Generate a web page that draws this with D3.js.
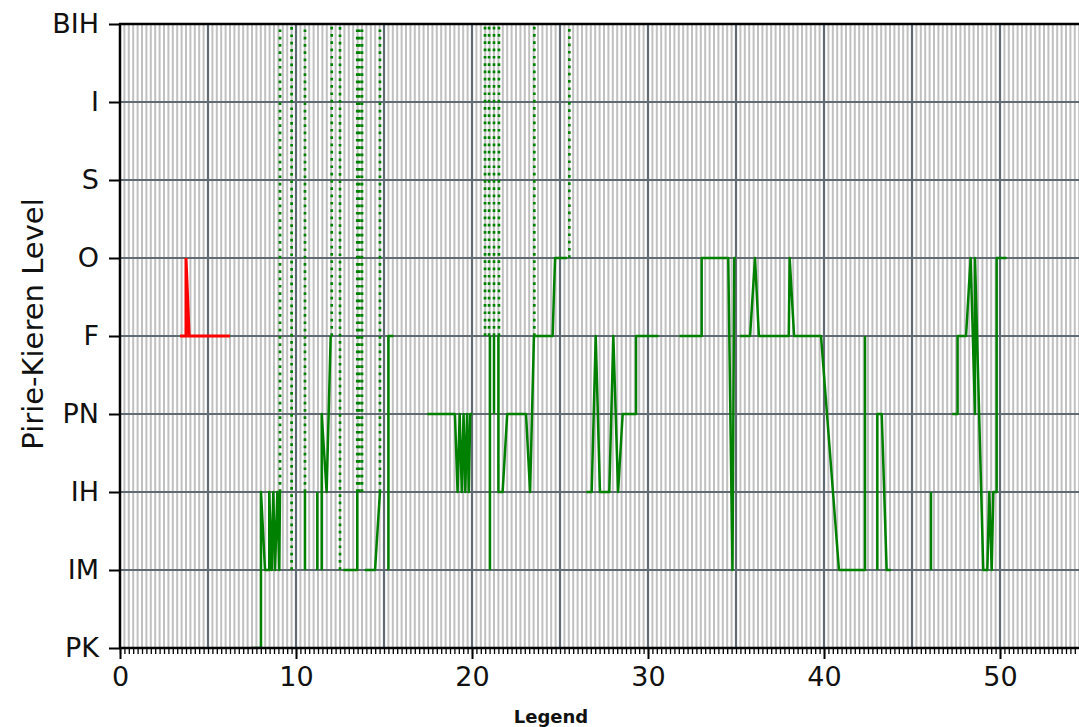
<!DOCTYPE html>
<html>
<head>
<meta charset="utf-8">
<script src="https://cdn.jsdelivr.net/npm/d3@7"></script>
<style>
  body { margin: 0; background: #fff; }
  svg text { font-family: "DejaVu Sans", sans-serif; }
</style>
</head>
<body>
<div id="chart"></div>
<script>
// Pirie-Kieren levels, bottom to top
var levels = ["PK", "IM", "IH", "PN", "F", "O", "S", "I", "BIH"];
var xTicks = [0, 10, 20, 30, 40, 50];

// red series
var redPoints = [[3.41, "F"], [3.75, "F"], [3.75, "O"], [3.93, "F"], [6.25, "F"]];

// green series, broken into pieces where the data has gaps
var greenPieces = [
  [[7.48, "PK"], [8.01, "PK"], [8.01, "IH"], [8.24, "IM"], [8.48, "IM"], [8.48, "IH"], [8.62, "IM"], [8.71, "IH"], [8.81, "IM"], [8.94, "IH"], [9.05, "IM"], [9.09, "IH"]],
  [[10.51, "IH"], [10.51, "IM"]],
  [[11.21, "IM"], [11.21, "IH"]],
  [[11.46, "IM"], [11.46, "PN"], [11.74, "IH"], [11.97, "F"]],
  [[12.69, "IM"], [13.48, "IM"], [13.48, "IH"]],
  [[13.92, "IM"], [14.49, "IM"], [14.77, "IH"]],
  [[15.25, "IM"], [15.25, "F"], [15.53, "F"]],
  [[17.46, "PN"], [19.03, "PN"], [19.18, "IH"], [19.3, "PN"], [19.42, "IH"], [19.52, "PN"], [19.62, "IH"], [19.72, "PN"], [19.82, "IH"], [19.9, "PN"], [20.02, "PN"]],
  [[21.02, "IM"], [21.02, "F"]],
  [[21.25, "F"], [21.25, "PN"]],
  [[21.5, "F"], [21.5, "IH"], [21.74, "IH"], [22.0, "PN"], [23.07, "PN"], [23.3, "IH"], [23.52, "F"], [24.58, "F"], [24.72, "O"], [25.4, "O"]],
  [[26.5, "IH"], [26.8, "IH"], [27.03, "F"], [27.27, "IH"], [27.8, "IH"], [28.03, "F"], [28.3, "IH"], [28.56, "PN"], [29.32, "PN"], [29.32, "F"], [30.59, "F"]],
  [[31.78, "F"], [33.05, "F"], [33.05, "O"], [34.56, "O"], [34.8, "IM"], [34.9, "O"], [35.0, "O"]],
  [[35.23, "F"], [35.8, "F"], [36.08, "O"], [36.3, "F"], [38.0, "F"], [38.05, "O"], [38.3, "F"], [39.83, "F"], [40.85, "IM"], [42.33, "IM"], [42.33, "F"]],
  [[43.03, "IM"], [43.03, "PN"], [43.28, "PN"], [43.56, "IM"], [43.8, "IM"]],
  [[46.08, "IH"], [46.08, "IM"]],
  [[47.29, "PN"], [47.59, "PN"], [47.59, "F"], [48.07, "F"], [48.33, "O"], [48.58, "PN"], [48.58, "O"], [49.05, "IM"], [49.28, "IM"], [49.39, "IH"], [49.53, "IM"], [49.62, "IH"], [49.81, "IH"], [49.81, "O"], [50.38, "O"]]
];

// dotted jumps up to BIH: [x, level it leaves from]
var greenJumps = [
  [9.09, "IH"], [9.75, "IM"], [10.51, "IH"], [12.03, "F"], [12.5, "IM"],
  [13.48, "IH"], [13.6, "IH"], [13.75, "IH"], [14.77, "IH"],
  [20.74, "F"], [20.97, "F"], [21.25, "F"], [21.53, "F"], [23.54, "F"], [25.53, "O"]
];

function drawChart() {
  var width = 1079, height = 727;
  var plotLeft = 120, plotTop = 24, plotBottom = 648;

  var svg = d3.select("#chart").append("svg")
      .attr("width", width)
      .attr("height", height);

  var x = d3.scaleLinear([0, 55], [plotLeft, plotLeft + 55 * 17.6]);
  var y = d3.scalePoint(levels, [plotBottom, plotTop]);

  svg.append("clipPath").attr("id", "plotclip")
    .append("rect")
      .attr("x", plotLeft).attr("y", plotTop)
      .attr("width", width - plotLeft).attr("height", plotBottom - plotTop);

  // minor vertical grid
  var minorX = d3.range(0, 55.001, 0.25);
  svg.append("g").selectAll("line")
    .data(minorX)
    .join("line")
      .attr("x1", d => x(d)).attr("x2", d => x(d))
      .attr("y1", plotTop).attr("y2", plotBottom)
      .attr("stroke", "#c0c0c0")
      .attr("stroke-width", 2);

  // major grid
  svg.append("g").selectAll("line")
    .data(d3.range(5, 55.001, 5))
    .join("line")
      .attr("x1", d => x(d)).attr("x2", d => x(d))
      .attr("y1", plotTop).attr("y2", plotBottom)
      .attr("stroke", "#5f6a72")
      .attr("stroke-width", 2.2);

  svg.append("g").selectAll("line")
    .data(levels.slice(1, -1))
    .join("line")
      .attr("x1", plotLeft).attr("x2", width)
      .attr("y1", d => y(d)).attr("y2", d => y(d))
      .attr("stroke", "#5f6a72")
      .attr("stroke-width", 2.2);

  var plot = svg.append("g").attr("clip-path", "url(#plotclip)");

  var line = d3.line()
      .x(d => x(d[0]))
      .y(d => y(d[1]));

  plot.selectAll(".jump")
    .data(greenJumps)
    .join("line")
      .attr("class", "jump")
      .attr("x1", d => x(d[0])).attr("x2", d => x(d[0]))
      .attr("y1", d => y(d[1])).attr("y2", y("BIH"))
      .attr("stroke", "green")
      .attr("stroke-width", 2.7)
      .attr("stroke-dasharray", "2.7,4.6");

  plot.selectAll(".piece")
    .data(greenPieces)
    .join("path")
      .attr("class", "piece")
      .attr("d", line)
      .attr("fill", "none")
      .attr("stroke", "green")
      .attr("stroke-width", 2.5)
      .attr("stroke-linejoin", "round");

  plot.append("path")
      .datum(redPoints)
      .attr("d", line)
      .attr("fill", "none")
      .attr("stroke", "red")
      .attr("stroke-width", 3);

  // axes
  var yAxis = svg.append("g")
      .attr("transform", "translate(" + plotLeft + ",0)")
      .call(d3.axisLeft(y).tickSize(11).tickPadding(10));
  yAxis.select(".domain").remove();
  yAxis.selectAll("line").attr("stroke", "#000").attr("stroke-width", 2);
  yAxis.selectAll("text").attr("font-size", 27).attr("fill", "#111");

  var xMinor = svg.append("g")
      .attr("transform", "translate(0," + plotBottom + ")")
      .call(d3.axisBottom(x).tickValues(minorX).tickSize(6).tickFormat(""));
  xMinor.select(".domain").remove();
  xMinor.selectAll("line").attr("stroke", "#000").attr("stroke-width", 1.3);

  var xAxis = svg.append("g")
      .attr("transform", "translate(0," + plotBottom + ")")
      .call(d3.axisBottom(x).tickValues(xTicks).tickSize(11).tickPadding(8));
  xAxis.select(".domain").remove();
  xAxis.selectAll("line").attr("stroke", "#000").attr("stroke-width", 2);
  xAxis.selectAll("text").attr("font-size", 27).attr("fill", "#111");

  // spines
  svg.append("line")
      .attr("x1", plotLeft).attr("x2", plotLeft)
      .attr("y1", plotTop - 1).attr("y2", plotBottom + 1)
      .attr("stroke", "#000").attr("stroke-width", 2.5);
  svg.append("line")
      .attr("x1", plotLeft - 1).attr("x2", width)
      .attr("y1", plotBottom).attr("y2", plotBottom)
      .attr("stroke", "#000").attr("stroke-width", 2.5);
  svg.append("line")
      .attr("x1", plotLeft - 1).attr("x2", width)
      .attr("y1", plotTop).attr("y2", plotTop)
      .attr("stroke", "#000").attr("stroke-width", 2.5);

  // labels
  svg.append("text")
      .attr("transform", "translate(43,324) rotate(-90)")
      .attr("text-anchor", "middle")
      .attr("font-size", 29)
      .attr("fill", "#111")
      .text("Pirie-Kieren Level");

  svg.append("text")
      .attr("x", 551).attr("y", 723)
      .attr("text-anchor", "middle")
      .attr("font-size", 18)
      .attr("font-weight", "bold")
      .attr("fill", "#111")
      .text("Legend");
}

drawChart();
</script>
</body>
</html>
